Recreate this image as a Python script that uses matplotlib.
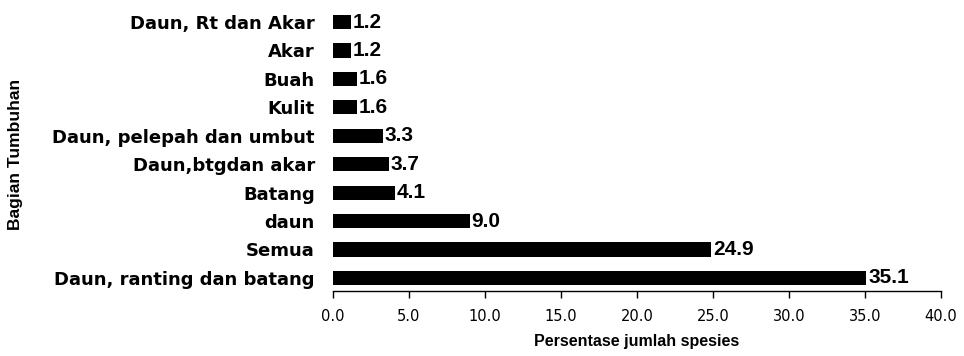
import matplotlib.pyplot as plt
import numpy as np

# data, top to bottom as in the picture
bagian = ['Daun, Rt dan Akar', 'Akar', 'Buah', 'Kulit', 'Daun, pelepah dan umbut',
          'Daun,btgdan akar', 'Batang', 'daun', 'Semua', 'Daun, ranting dan batang']
persen = [1.2, 1.2, 1.6, 1.6, 3.3, 3.7, 4.1, 9.0, 24.9, 35.1]
xticks = [0, 5, 10, 15, 20, 25, 30, 35, 40]

fig = plt.figure(figsize=(9.64, 3.56), dpi=100)
ax = fig.add_axes([0.3454, 0.1826, 0.6307, 0.7955])

y = np.arange(len(bagian))[::-1]
ax.barh(y, persen, height=0.5, color='black')

for yi, v in zip(y, persen):
    ax.text(v + 0.1, yi, f'{v:.1f}', va='center', ha='left',
            fontsize=15, fontweight='bold', family='Liberation Sans')

ax.set_yticks(y)
ax.set_yticklabels(bagian, fontsize=13, fontweight='bold', family='DejaVu Sans')
ax.tick_params(axis='y', length=0, pad=13)

ax.set_xlim(0, 40)
ax.set_ylim(-0.46, 9.5)
ax.set_xticks(xticks)
ax.set_xticklabels([f'{t:.1f}' for t in xticks], fontsize=10.5, family='DejaVu Sans')
ax.tick_params(axis='x', direction='out', length=5, width=1, pad=8)

for s in ['top', 'right', 'left']:
    ax.spines[s].set_visible(False)
ax.spines['bottom'].set_linewidth(1)

ax.set_xlabel('Persentase jumlah spesies', fontsize=11.5, fontweight='bold',
              family='Liberation Sans', labelpad=7)
fig.text(0.0156, 0.565, 'Bagian Tumbuhan', rotation=90, va='center', ha='center',
         fontsize=12.5, fontweight='bold', family='Liberation Sans')

fig.savefig('out.png', dpi=100)
